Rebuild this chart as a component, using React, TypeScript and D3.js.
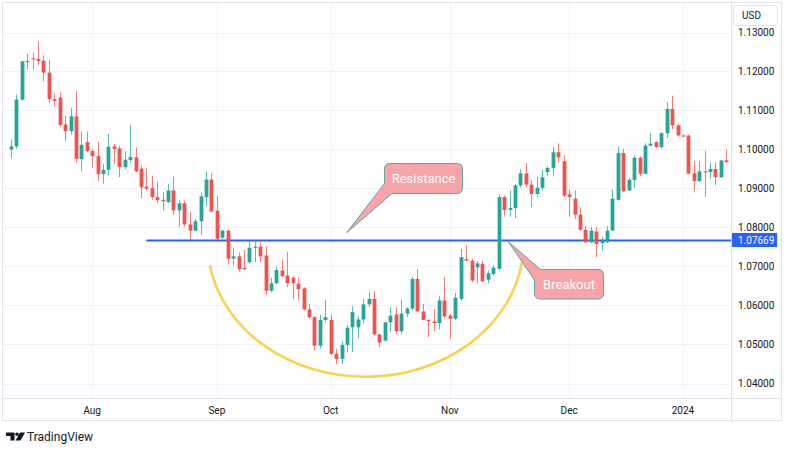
import { useEffect, useRef } from "react";
import * as d3 from "d3";

// daily bars, 11 Jul 2023 - 11 Jan 2024: [open, high, low, close]
const candles: [number, number, number, number][] = [
  [1.1, 1.1026, 1.0977, 1.1008],
  [1.1008, 1.1141, 1.1002, 1.1128],
  [1.1128, 1.1228, 1.1125, 1.1226],
  [1.1227, 1.1245, 1.1205, 1.1224],
  [1.1234, 1.1249, 1.1205, 1.1231],
  [1.1232, 1.1277, 1.1217, 1.1227],
  [1.1228, 1.1241, 1.1175, 1.1197],
  [1.1197, 1.123, 1.1119, 1.1129],
  [1.1129, 1.1144, 1.111, 1.1124],
  [1.1133, 1.1148, 1.106, 1.1063],
  [1.1064, 1.1087, 1.1021, 1.1047],
  [1.1047, 1.1107, 1.1038, 1.1085],
  [1.1085, 1.1151, 1.0965, 1.0976],
  [1.0975, 1.1047, 1.0944, 1.1012],
  [1.1019, 1.1046, 1.0993, 1.0996],
  [1.0996, 1.1002, 1.0953, 1.0983],
  [1.0983, 1.1019, 1.0919, 1.0937],
  [1.0937, 1.0963, 1.0912, 1.0948],
  [1.0948, 1.104, 1.0934, 1.1007],
  [1.1008, 1.1015, 1.0963, 1.1001],
  [1.1003, 1.101, 1.0929, 1.0955],
  [1.0955, 1.0996, 1.0949, 1.0974],
  [1.0973, 1.1063, 1.0967, 1.0981],
  [1.098, 1.1005, 1.0942, 1.0944],
  [1.0951, 1.0959, 1.0875, 1.0903],
  [1.0905, 1.0952, 1.0895, 1.09],
  [1.0901, 1.0933, 1.0871, 1.0878],
  [1.0878, 1.0918, 1.0862, 1.087],
  [1.0871, 1.0891, 1.0844, 1.0867],
  [1.0865, 1.0912, 1.0863, 1.0895],
  [1.0895, 1.0931, 1.0833, 1.0844],
  [1.0844, 1.0871, 1.0803, 1.0862],
  [1.0862, 1.0869, 1.0801, 1.0808],
  [1.0808, 1.0841, 1.0767, 1.0792],
  [1.0792, 1.0822, 1.079, 1.0816],
  [1.0816, 1.089, 1.0781, 1.088],
  [1.0878, 1.0944, 1.0854, 1.0923],
  [1.0923, 1.0939, 1.0839, 1.0841],
  [1.0843, 1.088, 1.0768, 1.0771],
  [1.0774, 1.0795, 1.0771, 1.0792],
  [1.0792, 1.0794, 1.0705, 1.072],
  [1.072, 1.0748, 1.0702, 1.0726],
  [1.0726, 1.0736, 1.0687, 1.0693],
  [1.0697, 1.0743, 1.0691, 1.0693],
  [1.0711, 1.0768, 1.0707, 1.0748],
  [1.0748, 1.0764, 1.0711, 1.0751],
  [1.0751, 1.0764, 1.0711, 1.0726],
  [1.0728, 1.0751, 1.0628, 1.0638],
  [1.0638, 1.0671, 1.0634, 1.0657],
  [1.0657, 1.0698, 1.0654, 1.0691],
  [1.069, 1.0718, 1.0673, 1.0675],
  [1.0677, 1.0737, 1.0647, 1.0657],
  [1.0671, 1.0673, 1.0617, 1.0657],
  [1.0656, 1.0671, 1.0613, 1.0642],
  [1.0644, 1.0647, 1.0587, 1.059],
  [1.059, 1.0604, 1.0566, 1.057],
  [1.057, 1.0573, 1.0485, 1.0497],
  [1.0497, 1.0576, 1.0489, 1.0563],
  [1.0563, 1.0615, 1.0557, 1.057],
  [1.0563, 1.0577, 1.0472, 1.0476],
  [1.0476, 1.0489, 1.0449, 1.0463],
  [1.0463, 1.0508, 1.045, 1.0499],
  [1.0499, 1.055, 1.048, 1.0543],
  [1.0544, 1.0598, 1.0481, 1.0583],
  [1.0544, 1.0572, 1.0517, 1.0564],
  [1.0564, 1.0617, 1.0554, 1.0603],
  [1.0603, 1.0634, 1.0596, 1.0617],
  [1.0617, 1.0637, 1.0523, 1.0526],
  [1.0526, 1.0527, 1.0493, 1.0505],
  [1.051, 1.0559, 1.0508, 1.0557],
  [1.0557, 1.0596, 1.0532, 1.0574],
  [1.0577, 1.0596, 1.0526, 1.0534],
  [1.0534, 1.0615, 1.0526, 1.0579],
  [1.0579, 1.0596, 1.057, 1.0592],
  [1.0592, 1.0674, 1.0587, 1.0668],
  [1.0668, 1.0694, 1.0583, 1.0585],
  [1.0585, 1.0604, 1.0562, 1.0563],
  [1.0563, 1.0565, 1.0519, 1.056],
  [1.0559, 1.0591, 1.0534, 1.0555],
  [1.0555, 1.0624, 1.0538, 1.0613],
  [1.0613, 1.0673, 1.0566, 1.0572],
  [1.0574, 1.0579, 1.0515, 1.0566],
  [1.0566, 1.0632, 1.0563, 1.062],
  [1.0617, 1.0745, 1.0611, 1.0724],
  [1.0719, 1.0754, 1.0714, 1.0715],
  [1.0715, 1.072, 1.066, 1.0664],
  [1.0698, 1.0714, 1.0657, 1.0708],
  [1.0707, 1.0714, 1.066, 1.0662],
  [1.0666, 1.069, 1.0657, 1.0683],
  [1.0681, 1.0703, 1.0677, 1.0697],
  [1.0694, 1.0886, 1.0692, 1.0878],
  [1.0878, 1.0882, 1.0828, 1.0845],
  [1.0845, 1.0895, 1.0828, 1.085],
  [1.085, 1.0912, 1.0824, 1.0908],
  [1.0908, 1.095, 1.0902, 1.0939],
  [1.0939, 1.0965, 1.0903, 1.091],
  [1.091, 1.0921, 1.0852, 1.0886],
  [1.0886, 1.0931, 1.0879, 1.0902],
  [1.0902, 1.0948, 1.0895, 1.0929],
  [1.0942, 1.0956, 1.0933, 1.0953],
  [1.0953, 1.1006, 1.0931, 1.0993],
  [1.0993, 1.1016, 1.0967, 1.098],
  [1.097, 1.0985, 1.0878, 1.0882],
  [1.0885, 1.0897, 1.0828, 1.0878],
  [1.0874, 1.0895, 1.0822, 1.0833],
  [1.0833, 1.0852, 1.0792, 1.0794],
  [1.0794, 1.0803, 1.076, 1.0762],
  [1.0762, 1.0801, 1.076, 1.0792],
  [1.079, 1.0801, 1.0724, 1.0758],
  [1.076, 1.0777, 1.0741, 1.0765],
  [1.0762, 1.0803, 1.076, 1.0792],
  [1.0792, 1.0897, 1.079, 1.0874],
  [1.0871, 1.1008, 1.0869, 1.0991],
  [1.0991, 1.1002, 1.089, 1.0893],
  [1.0895, 1.0927, 1.0893, 1.0922],
  [1.0922, 1.0985, 1.0902, 1.0979],
  [1.0979, 1.0982, 1.0931, 1.0938],
  [1.0938, 1.1016, 1.0936, 1.101],
  [1.101, 1.1042, 1.1008, 1.1015],
  [1.1019, 1.1021, 1.1004, 1.1006],
  [1.1006, 1.1044, 1.1004, 1.1042],
  [1.1042, 1.1121, 1.103, 1.1104],
  [1.1104, 1.1138, 1.1051, 1.1062],
  [1.1062, 1.1066, 1.1033, 1.1036],
  [1.1036, 1.1038, 1.1032, 1.1034],
  [1.1036, 1.1038, 1.0936, 1.0938],
  [1.0939, 1.097, 1.089, 1.0919],
  [1.0919, 1.097, 1.0916, 1.0944],
  [1.0944, 1.0997, 1.0878, 1.0941],
  [1.0942, 1.0967, 1.0925, 1.095],
  [1.095, 1.0967, 1.0908, 1.0929],
  [1.0929, 1.0974, 1.0927, 1.0972],
  [1.0972, 1.1001, 1.0964, 1.0968],
];

const monthLabels = ["Aug", "Sep", "Oct", "Nov", "Dec", "2024"];
const monthBars = [15, 38, 59, 81, 103, 124];
const priceTicks = [1.04, 1.05, 1.06, 1.07, 1.08, 1.09, 1.1, 1.11, 1.12, 1.13];

const resistance = 1.07669;
const resistanceFromBar = 25;

// the drawn "rounding bottom" arc: [bar, price] ends
const arcStart: [number, number] = [36.7, 1.07038];
const arcEnd: [number, number] = [94.3, 1.07115];

const W = 790;
const H = 451;
const UP = "#26a69a";
const DOWN = "#ef5350";
const TEXT = "#131722";
const FONT = "Roboto, 'Liberation Sans', sans-serif";

export default function App() {
  const ref = useRef<SVGSVGElement | null>(null);

  useEffect(() => {
    const svg = d3.select(ref.current);
    svg.selectAll("*").remove();

    const plotRight = 731;
    const timeAxisY = 398;

    const x = d3.scaleLinear().domain([0, candles.length - 1]).range([10.9, 726.3]);
    const y = d3.scaleLinear().domain([1.04, 1.13]).range([383.5, 32.5]);

    svg.attr("viewBox", `0 0 ${W} ${H}`);
    svg.append("rect").attr("width", W).attr("height", H).attr("fill", "#fff");

    // Gridlines
    const grid = svg.append("g").attr("stroke", "#f0f3fa").attr("stroke-width", 1);
    priceTicks.forEach((p) => {
      const yy = Math.round(y(p)) + 0.5;
      grid.append("line").attr("x1", 3).attr("x2", plotRight).attr("y1", yy).attr("y2", yy);
    });
    monthBars.forEach((b) => {
      const xx = Math.round(x(b)) + 0.5;
      grid.append("line").attr("x1", xx).attr("x2", xx).attr("y1", 3).attr("y2", timeAxisY);
    });

    // Resistance line
    svg
      .append("line")
      .attr("x1", x(resistanceFromBar))
      .attr("x2", plotRight)
      .attr("y1", y(resistance))
      .attr("y2", y(resistance))
      .attr("stroke", "#2962ff")
      .attr("stroke-width", 2);

    // Candles
    const g = svg.append("g");
    candles.forEach(([o, h, l, c], i) => {
      const cx = Math.round(x(i)) + 0.5;
      const col = c >= o ? UP : DOWN;
      g.append("line")
        .attr("x1", cx)
        .attr("x2", cx)
        .attr("y1", y(h))
        .attr("y2", y(l))
        .attr("stroke", col)
        .attr("stroke-opacity", 0.75);
      const top = y(Math.max(o, c));
      const bh = Math.max(1, y(Math.min(o, c)) - top);
      g.append("rect")
        .attr("x", cx - 1.9)
        .attr("y", top)
        .attr("width", 3.8)
        .attr("height", bh)
        .attr("fill", col);
    });

    // Rounding bottom arc
    svg
      .append("path")
      .attr(
        "d",
        `M${x(arcStart[0])},${y(arcStart[1])} A158,134 0 0,0 ${x(arcEnd[0])},${y(arcEnd[1])}`,
      )
      .attr("fill", "none")
      .attr("stroke", "#fbd24e")
      .attr("stroke-width", 2.6);

    // Callouts
    const callout = (
      text: string,
      bx: number,
      by: number,
      bw: number,
      bh: number,
      tip: [number, number],
      corner: "bl" | "tl",
    ) => {
      const r = 5;
      const x1 = bx + bw;
      const y1 = by + bh;
      let d: string;
      if (corner === "bl") {
        d =
          `M${bx + r},${by} H${x1 - r} A${r},${r} 0 0 1 ${x1},${by + r} V${y1 - r} ` +
          `A${r},${r} 0 0 1 ${x1 - r},${y1} H${bx + 7.5} L${tip[0]},${tip[1]} ` +
          `L${bx},${y1 - 10} V${by + r} A${r},${r} 0 0 1 ${bx + r},${by} Z`;
      } else {
        d =
          `M${bx + 6},${by} H${x1 - r} A${r},${r} 0 0 1 ${x1},${by + r} V${y1 - r} ` +
          `A${r},${r} 0 0 1 ${x1 - r},${y1} H${bx + r} A${r},${r} 0 0 1 ${bx},${y1 - r} ` +
          `V${by + 10.5} L${tip[0]},${tip[1]} Z`;
      }
      svg
        .append("path")
        .attr("d", d)
        .attr("fill", "#f9a4a7")
        .attr("stroke", "#64a2a6")
        .attr("stroke-width", 1);
      svg
        .append("text")
        .attr("x", bx + bw / 2)
        .attr("y", by + bh / 2 + 4.5)
        .attr("text-anchor", "middle")
        .attr("font-family", FONT)
        .attr("font-size", 13)
        .attr("fill", "#fff")
        .text(text);
    };
    callout("Resistance", 384.5, 163.5, 78, 30, [346.7, 232.7], "bl");
    callout("Breakout", 534.5, 269.5, 69, 29.5, [508.3, 241.7], "tl");

    // Price axis
    const axis = svg.append("g").attr("font-family", FONT).attr("font-size", 10).attr("fill", TEXT);
    priceTicks.forEach((p) => {
      axis
        .append("text")
        .attr("x", 738)
        .attr("y", y(p) + 3.5)
        .text(p.toFixed(5));
    });
    svg
      .append("rect")
      .attr("x", 731)
      .attr("y", 233)
      .attr("width", 46)
      .attr("height", 14)
      .attr("fill", "#2962ff");
    svg
      .append("text")
      .attr("x", 738)
      .attr("y", y(resistance) + 3.5)
      .attr("font-family", FONT)
      .attr("font-size", 10)
      .attr("fill", "#fff")
      .text(resistance.toFixed(5));

    // USD badge
    svg
      .append("rect")
      .attr("x", 733.5)
      .attr("y", 5.5)
      .attr("width", 44)
      .attr("height", 20)
      .attr("rx", 3)
      .attr("fill", "#fff")
      .attr("stroke", "#e0e3eb");
    svg
      .append("text")
      .attr("x", 742)
      .attr("y", 19)
      .attr("font-family", FONT)
      .attr("font-size", 10)
      .attr("fill", TEXT)
      .text("USD");

    // Time axis
    monthBars.forEach((b, i) => {
      svg
        .append("text")
        .attr("x", x(b))
        .attr("y", 414)
        .attr("text-anchor", "middle")
        .attr("font-family", FONT)
        .attr("font-size", 10)
        .attr("fill", TEXT)
        .text(monthLabels[i]);
    });

    // Frame
    const frame = svg.append("g").attr("stroke", "#e0e3eb").attr("fill", "none");
    frame.append("rect").attr("x", 2.5).attr("y", 2.5).attr("width", 779).attr("height", 418);
    frame.append("line").attr("x1", 731.5).attr("x2", 731.5).attr("y1", 2.5).attr("y2", 420.5);
    frame.append("line").attr("x1", 2.5).attr("x2", 781.5).attr("y1", 398.5).attr("y2", 398.5);

    // TradingView logo
    const logo = svg.append("g").attr("fill", TEXT);
    logo.append("path").attr("d", "M6,432.5 H14.5 V440.5 H10.5 V436 H6 Z");
    logo.append("circle").attr("cx", 17).attr("cy", 434.3).attr("r", 1.8);
    logo.append("path").attr("d", "M20,432.5 H25 L20.5,440.5 H15.5 Z");
    svg
      .append("text")
      .attr("x", 27)
      .attr("y", 441)
      .attr("font-family", FONT)
      .attr("font-size", 12)
      .attr("fill", TEXT)
      .text("TradingView");
  }, []);

  return (
    <svg
      ref={ref}
      width={W}
      height={H}
      style={{ position: "absolute", left: 0, top: 0, display: "block" }}
    />
  );
}
